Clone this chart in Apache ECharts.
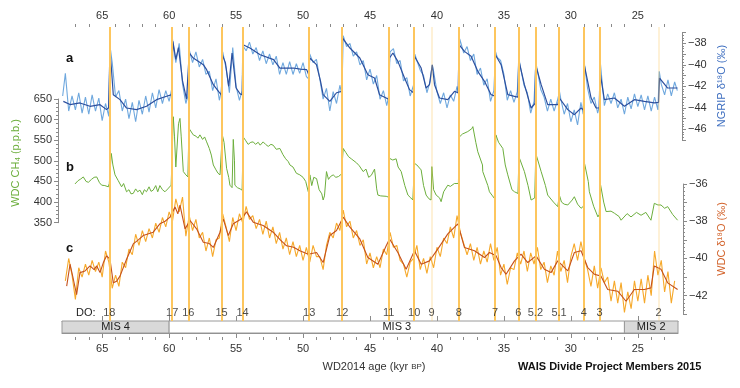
<!DOCTYPE html>
<html><head><meta charset="utf-8">
<script src="https://cdn.jsdelivr.net/npm/echarts@6/dist/echarts.min.js"></script>
<style>html,body{margin:0;padding:0;background:#fff}#c{width:740px;height:388px}</style>
</head><body><div id="c"></div>
<script>
// ---- data (age in kyr BP, value) ----
const xMajorTicks = [65,60,55,50,45,40,35,30,25];
const xMinorTicks = [67,66,64,63,62,61,59,58,57,56,54,53,52,51,49,48,47,46,44,43,42,41,39,38,37,36,34,33,32,31,29,28,27,26,24,23];

const doNames = ['18','17','16','15','14','13','12','11','10','9','8','7','6','5.2','5.1','4','3','2'];
const doAges  = [64.47,59.77,58.57,56.08,54.52,49.54,47.08,43.6,41.7,40.41,38.37,35.66,33.92,32.65,30.88,29.04,27.85,23.46];
const doFaint = ['9','2'];

const misNames = ['MIS 4','MIS 3','MIS 2'];
const misStart = [68,60,26];
const misEnd   = [60,26,22];
const misShaded = [true,false,true];

const ngripRaw = [
[67.95,-42.9],[67.75,-40.8],[67.5,-44.3],[67.25,-42.9],[67.0,-44.2],[66.75,-42.6],[66.5,-44.5],[66.25,-43.0],[66.0,-44.6],[65.75,-42.8],[65.5,-44.3],[65.25,-43.1],[65.0,-45.2],[64.75,-43.6],[64.5,-44.8],[64.42,-38.2],[64.25,-39.8],[64.0,-43.0],[63.75,-42.4],[63.5,-44.3],[63.25,-43.2],[63.0,-45.0],[62.75,-43.5],[62.5,-45.3],[62.25,-43.3],[62.0,-44.6],[61.75,-42.9],[61.5,-44.4],[61.25,-42.6],[61.0,-44.0],[60.75,-42.3],[60.5,-43.6],[60.25,-42.4],[60.0,-43.4],[59.8,-42.2],[59.75,-37.6],[59.5,-39.8],[59.25,-38.0],[59.0,-41.8],[58.75,-43.6],[58.6,-42.9],[58.5,-38.6],[58.25,-39.8],[58.0,-38.8],[57.75,-40.2],[57.5,-39.5],[57.25,-40.9],[57.0,-40.6],[56.75,-42.4],[56.5,-41.3],[56.25,-43.3],[56.1,-42.4],[56.0,-38.8],[55.75,-40.3],[55.5,-42.6],[55.25,-38.4],[55.0,-42.0],[54.75,-43.3],[54.55,-42.4],[54.5,-38.2],[54.25,-38.7],[54.0,-37.9],[53.75,-39.0],[53.5,-38.4],[53.25,-39.6],[53.0,-38.7],[52.75,-39.9],[52.5,-39.0],[52.25,-40.0],[52.0,-39.2],[51.75,-40.9],[51.5,-39.8],[51.25,-40.9],[51.0,-39.7],[50.75,-40.9],[50.5,-39.9],[50.25,-40.8],[50.0,-39.8],[49.75,-41.1],[49.58,-41.3],[49.5,-39.0],[49.25,-39.8],[49.0,-39.5],[48.75,-41.3],[48.5,-43.2],[48.25,-42.2],[48.0,-44.3],[47.75,-42.5],[47.5,-43.6],[47.25,-41.9],[47.1,-42.8],[47.0,-37.3],[46.75,-38.3],[46.5,-38.0],[46.25,-39.2],[46.0,-38.8],[45.75,-40.0],[45.5,-39.6],[45.25,-41.4],[45.0,-40.4],[44.75,-41.8],[44.5,-41.0],[44.25,-43.2],[44.0,-42.4],[43.75,-43.8],[43.62,-43.0],[43.5,-38.8],[43.25,-38.5],[43.0,-39.9],[42.75,-39.6],[42.5,-41.5],[42.25,-41.2],[42.0,-42.9],[41.75,-41.9],[41.65,-39.0],[41.5,-39.6],[41.25,-40.5],[41.0,-41.0],[40.75,-42.6],[40.5,-41.5],[40.35,-40.0],[40.25,-40.6],[40.0,-42.5],[39.75,-43.6],[39.5,-42.6],[39.25,-44.0],[39.0,-42.8],[38.75,-43.4],[38.5,-42.0],[38.4,-42.7],[38.3,-37.6],[38.0,-38.9],[37.75,-38.3],[37.5,-39.6],[37.25,-39.0],[37.0,-40.9],[36.75,-40.3],[36.5,-41.9],[36.25,-41.3],[36.0,-43.4],[35.75,-42.4],[35.62,-38.8],[35.5,-39.3],[35.25,-39.6],[35.0,-40.9],[34.75,-43.3],[34.5,-42.4],[34.25,-43.5],[34.0,-42.5],[33.88,-39.4],[33.75,-40.3],[33.5,-41.9],[33.25,-42.6],[33.0,-44.5],[32.75,-43.4],[32.62,-39.8],[32.5,-40.5],[32.25,-42.3],[32.0,-43.0],[31.75,-44.3],[31.5,-43.2],[31.25,-44.3],[31.0,-43.3],[30.85,-42.5],[30.75,-43.2],[30.5,-44.6],[30.25,-43.6],[30.0,-45.3],[29.75,-44.2],[29.5,-45.6],[29.25,-43.5],[29.08,-44.6],[29.0,-39.8],[28.75,-42.2],[28.5,-43.6],[28.25,-43.0],[28.0,-44.5],[27.88,-43.9],[27.8,-39.8],[27.5,-43.8],[27.25,-42.7],[27.0,-43.6],[26.75,-42.6],[26.5,-44.0],[26.25,-43.2],[26.0,-44.6],[25.75,-43.0],[25.5,-44.1],[25.25,-42.7],[25.0,-43.9],[24.75,-42.8],[24.5,-44.2],[24.25,-42.9],[24.0,-44.3],[23.75,-43.0],[23.5,-44.2],[23.4,-40.6],[23.25,-41.8],[23.0,-42.8],[22.75,-41.4],[22.5,-42.9],[22.25,-41.6],[22.05,-42.4]
];

const ngripSmooth = [
[67.9,-43.4],[67.4,-43.7],[66.66,-43.55],[65.91,-43.86],[65.16,-43.71],[64.67,-44.17],[64.52,-44.0],[64.42,-38.75],[64.3,-40.5],[64.17,-42.78],[63.67,-43.24],[63.18,-44.02],[62.43,-44.17],[61.69,-43.86],[60.94,-43.24],[60.19,-42.93],[59.8,-42.78],[59.72,-37.82],[59.5,-39.5],[59.3,-38.4],[59.0,-41.5],[58.7,-43.2],[58.58,-43.3],[58.5,-38.9],[58.2,-39.37],[57.8,-39.7],[57.45,-39.99],[57.2,-40.45],[56.7,-41.85],[56.3,-42.5],[56.1,-42.8],[56.02,-39.1],[55.8,-39.8],[55.55,-42.0],[55.3,-38.9],[55.0,-42.16],[54.7,-42.7],[54.54,-42.78],[54.48,-38.13],[53.97,-38.44],[53.2,-39.06],[52.2,-39.52],[51.73,-40.3],[50.73,-40.3],[50.2,-40.4],[49.73,-40.45],[49.58,-40.9],[49.5,-39.37],[49.0,-39.99],[48.7,-41.5],[48.5,-42.78],[48.0,-43.4],[47.5,-42.6],[47.12,-42.47],[47.05,-37.51],[46.5,-38.44],[45.76,-39.37],[45.16,-40.92],[44.66,-41.23],[44.29,-42.78],[43.79,-43.09],[43.62,-43.2],[43.54,-39.37],[43.29,-38.9],[42.92,-39.68],[42.42,-41.23],[42.05,-42.31],[41.75,-42.6],[41.68,-39.21],[41.18,-40.3],[40.81,-42.16],[40.56,-41.85],[40.35,-40.0],[40.18,-41.85],[39.81,-43.09],[39.19,-43.24],[38.69,-42.47],[38.42,-42.6],[38.35,-38.13],[37.95,-38.75],[37.45,-39.21],[36.95,-40.61],[36.45,-41.54],[35.96,-42.78],[35.7,-42.9],[35.64,-39.06],[35.21,-39.99],[34.71,-42.78],[34.21,-42.93],[33.95,-43.0],[33.9,-39.52],[33.47,-41.85],[32.97,-44.02],[32.68,-43.6],[32.63,-40.0],[32.22,-41.85],[31.73,-43.71],[30.98,-43.71],[30.86,-43.09],[30.23,-44.17],[29.74,-44.64],[29.24,-44.02],[29.06,-44.2],[29.0,-40.0],[28.49,-43.09],[28.12,-44.02],[27.88,-44.0],[27.83,-40.61],[27.5,-43.24],[26.75,-43.09],[26.0,-43.86],[25.26,-43.24],[24.51,-43.4],[23.77,-43.55],[23.45,-43.5],[23.38,-41.23],[22.77,-42.16],[22.03,-42.16]
];

const ch4 = [
[67.03,444],[66.8,452],[66.6,456],[66.41,461],[66.2,450],[66.03,448],[65.8,455],[65.6,460],[65.41,461],[65.2,447],[65.04,441],[64.8,440],[64.54,437],[64.47,445],[64.32,518],[64.2,490],[64.04,466],[63.8,452],[63.55,437],[63.4,445],[63.18,425],[63.0,430],[62.85,420],[62.68,421],[62.5,432],[62.35,425],[62.18,429],[62.0,418],[61.85,430],[61.69,425],[61.5,437],[61.35,426],[61.19,429],[61.0,440],[60.85,425],[60.69,440],[60.5,430],[60.31,425],[60.1,432],[59.85,441],[59.77,520],[59.69,607],[59.6,560],[59.5,485],[59.44,482],[59.3,590],[59.19,603],[59.1,560],[58.94,474],[58.75,466],[58.6,461],[58.52,579],[58.4,575],[58.2,563],[58.0,560],[57.85,555],[57.7,563],[57.5,552],[57.35,558],[57.2,546],[57.0,530],[56.85,514],[56.7,490],[56.5,478],[56.35,470],[56.2,466],[56.09,468],[56.03,563],[55.9,545],[55.71,482],[55.55,460],[55.46,441],[55.3,435],[55.21,552],[55.12,500],[55.09,441],[54.9,435],[54.7,432],[54.55,429],[54.47,558],[54.3,550],[54.1,540],[53.9,545],[53.72,546],[53.55,540],[53.35,545],[53.2,538],[52.98,546],[52.8,540],[52.6,535],[52.4,540],[52.23,538],[52.0,528],[51.73,530],[51.5,515],[51.3,505],[51.1,498],[50.98,490],[50.75,485],[50.5,470],[50.24,466],[50.0,460],[49.8,450],[49.61,425],[49.55,430],[49.49,466],[49.35,440],[49.2,460],[48.99,457],[48.8,430],[48.6,420],[48.5,405],[48.4,415],[48.25,474],[48.1,455],[47.95,462],[47.75,466],[47.55,460],[47.35,462],[47.13,468],[47.08,470],[47.0,530],[46.8,520],[46.6,510],[46.4,505],[46.26,506],[46.0,495],[45.8,488],[45.51,474],[45.3,480],[45.1,460],[44.9,465],[44.66,480],[44.5,432],[44.41,417],[44.2,415],[43.79,414],[43.62,412],[43.54,506],[43.3,502],[43.05,505],[42.9,485],[42.67,474],[42.4,440],[42.17,417],[41.95,410],[41.8,405],[41.72,408],[41.68,494],[41.5,490],[41.18,478],[41.0,440],[40.81,417],[40.6,408],[40.44,405],[40.38,486],[40.25,430],[40.06,417],[39.8,410],[39.69,401],[39.5,425],[39.19,441],[39.0,438],[38.7,445],[38.57,441],[38.4,445],[38.32,558],[38.1,565],[37.7,571],[37.4,578],[37.32,583],[37.1,545],[36.95,522],[36.6,490],[36.58,474],[36.2,440],[36.08,425],[35.85,415],[35.71,409],[35.66,412],[35.6,563],[35.4,545],[35.08,530],[34.9,490],[34.71,466],[34.4,430],[34.21,425],[33.95,421],[33.88,510],[33.47,474],[33.2,440],[32.97,405],[32.7,410],[32.62,518],[32.22,474],[31.9,440],[31.73,417],[31.3,400],[30.98,389],[30.86,417],[30.7,400],[30.5,395],[30.23,393],[29.9,405],[29.74,413],[29.5,395],[29.24,385],[29.06,390],[28.98,494],[28.7,450],[28.62,425],[28.3,390],[27.98,364],[27.88,370],[27.8,445],[27.55,400],[27.37,377],[27.0,378],[26.75,373],[26.4,365],[26.25,356],[25.8,372],[25.51,364],[25.1,375],[24.76,368],[24.4,375],[24.02,356],[23.77,397],[23.5,393],[23.27,393],[23.0,385],[22.77,389],[22.4,370],[22.03,356]
];

const wdcRaw = [
[67.75,-41.2],[67.5,-40.0],[67.25,-40.9],[67.0,-42.2],[66.75,-40.5],[66.5,-41.0],[66.25,-40.3],[66.0,-40.9],[65.75,-40.1],[65.5,-40.7],[65.25,-40.2],[65.0,-41.0],[64.75,-39.6],[64.5,-40.2],[64.25,-41.6],[64.0,-40.9],[63.75,-41.5],[63.5,-40.2],[63.25,-40.5],[63.0,-39.5],[62.75,-39.8],[62.5,-38.7],[62.25,-39.3],[62.0,-38.5],[61.75,-39.1],[61.5,-38.4],[61.25,-38.9],[61.0,-38.1],[60.75,-38.6],[60.5,-37.8],[60.25,-38.3],[60.0,-37.5],[59.75,-38.0],[59.5,-36.8],[59.25,-37.5],[59.0,-36.7],[58.75,-38.8],[58.5,-37.7],[58.25,-38.5],[58.0,-37.9],[57.75,-38.9],[57.5,-38.6],[57.25,-39.6],[57.0,-38.9],[56.75,-39.9],[56.5,-39.0],[56.25,-38.9],[56.0,-37.6],[55.75,-38.3],[55.5,-39.1],[55.25,-37.8],[55.0,-38.5],[54.75,-37.6],[54.5,-38.1],[54.25,-37.2],[54.0,-37.9],[53.75,-37.7],[53.5,-38.4],[53.25,-37.9],[53.0,-38.7],[52.75,-38.0],[52.5,-38.9],[52.25,-38.3],[52.0,-39.2],[51.75,-38.6],[51.5,-39.5],[51.25,-38.9],[51.0,-39.8],[50.75,-39.1],[50.5,-39.9],[50.25,-39.3],[50.0,-40.1],[49.75,-39.4],[49.5,-40.2],[49.25,-39.3],[49.0,-39.9],[48.75,-39.9],[48.5,-40.6],[48.25,-39.3],[48.0,-38.6],[47.75,-38.9],[47.5,-38.1],[47.25,-38.5],[47.0,-37.4],[46.75,-38.3],[46.5,-38.0],[46.25,-38.9],[46.0,-38.5],[45.75,-39.3],[45.5,-39.0],[45.25,-40.3],[45.0,-39.7],[44.75,-40.5],[44.5,-39.9],[44.25,-40.5],[44.0,-39.5],[43.75,-39.8],[43.5,-38.6],[43.25,-39.4],[43.0,-39.3],[42.75,-40.1],[42.5,-40.3],[42.25,-41.0],[42.0,-40.2],[41.75,-40.0],[41.5,-39.3],[41.25,-40.6],[41.0,-40.0],[40.75,-40.8],[40.5,-39.9],[40.25,-40.5],[40.0,-39.4],[39.75,-39.9],[39.5,-38.9],[39.25,-39.2],[39.0,-38.3],[38.75,-38.9],[38.5,-37.7],[38.25,-38.6],[38.0,-39.2],[37.75,-39.8],[37.5,-39.2],[37.25,-40.1],[37.0,-39.4],[36.75,-40.3],[36.5,-39.6],[36.25,-40.2],[36.0,-39.2],[35.75,-40.1],[35.5,-39.4],[35.25,-40.9],[35.0,-40.3],[34.75,-41.4],[34.5,-40.5],[34.25,-40.6],[34.0,-39.7],[33.75,-40.3],[33.5,-39.6],[33.25,-40.7],[33.0,-39.7],[32.75,-40.3],[32.5,-39.4],[32.25,-40.6],[32.0,-40.2],[31.75,-41.3],[31.5,-40.4],[31.25,-40.9],[31.0,-39.6],[30.75,-40.7],[30.5,-40.1],[30.25,-41.3],[30.0,-39.9],[29.75,-39.2],[29.5,-40.1],[29.25,-39.1],[29.0,-40.0],[28.75,-40.6],[28.5,-41.5],[28.25,-40.4],[28.0,-41.6],[27.75,-40.5],[27.5,-41.3],[27.25,-41.0],[27.0,-42.3],[26.75,-41.2],[26.5,-42.4],[26.25,-41.3],[26.0,-42.9],[25.75,-41.8],[25.5,-42.7],[25.25,-41.2],[25.0,-42.3],[24.75,-41.1],[24.5,-42.4],[24.25,-40.9],[24.0,-42.0],[23.75,-39.6],[23.5,-40.9],[23.25,-40.1],[23.0,-41.8],[22.75,-40.7],[22.5,-42.4],[22.25,-41.2]
];

const wdcSmooth = [
[67.65,-41.49],[67.4,-40.31],[67.15,-41.13],[66.91,-41.94],[66.66,-40.76],[66.28,-40.67],[65.91,-40.4],[65.6,-40.6],[65.41,-40.4],[65.16,-40.76],[64.9,-40.2],[64.67,-39.86],[64.42,-40.04],[64.17,-41.31],[63.92,-41.22],[63.67,-40.95],[63.18,-40.04],[62.68,-39.22],[62.3,-39.0],[61.94,-38.77],[61.19,-38.59],[60.69,-38.14],[60.3,-38.0],[59.94,-37.78],[59.56,-37.23],[59.35,-37.6],[59.19,-37.14],[58.81,-38.41],[58.44,-37.96],[57.95,-38.41],[57.45,-39.13],[57.0,-39.2],[56.7,-39.41],[56.2,-38.59],[55.96,-37.87],[55.58,-38.77],[55.21,-38.14],[54.9,-38.0],[54.59,-37.87],[54.22,-37.5],[53.72,-38.05],[52.98,-38.23],[52.23,-38.59],[51.7,-39.0],[51.23,-39.32],[50.7,-39.4],[50.24,-39.59],[49.61,-39.77],[48.99,-39.68],[48.5,-40.22],[48.0,-38.77],[47.5,-38.5],[47.0,-37.78],[46.5,-38.32],[45.76,-38.95],[45.16,-39.95],[44.41,-40.31],[43.79,-39.32],[43.54,-38.95],[42.92,-39.68],[42.3,-40.58],[41.68,-39.59],[41.18,-40.31],[40.56,-40.13],[39.94,-39.5],[39.19,-38.68],[38.44,-38.14],[37.95,-39.41],[37.2,-39.59],[36.45,-39.95],[36.08,-39.68],[35.58,-39.86],[35.21,-40.49],[34.84,-40.85],[34.21,-40.13],[33.72,-39.77],[33.22,-40.22],[32.6,-39.86],[31.98,-40.58],[31.48,-40.76],[30.98,-40.13],[30.23,-40.67],[29.74,-39.68],[29.24,-39.59],[28.74,-40.49],[28.24,-40.85],[27.75,-40.95],[27.25,-41.67],[26.5,-41.76],[25.88,-42.3],[25.26,-41.67],[24.51,-41.67],[24.02,-41.58],[23.77,-40.4],[23.27,-40.58],[22.77,-41.31],[22.03,-41.67]
];

// ---- chart ----
const FONT = '"Liberation Sans", Arial, sans-serif';
const AX = '#8a8a8a', TXT = '#333';
const C_BLUE_RAW = '#6fa8de', C_BLUE = '#2c4f9e', C_GREEN = '#6cae3c', C_OR_RAW = '#f6a92b', C_OR = '#c5511c', C_DO = '#fdc65e';
const L = 62, R = 62;

const chart = echarts.init(document.getElementById('c'), null, {renderer: 'canvas'});
const minus = s => String(s).replace('-', '\u2212');
const evenOnly = v => (Math.round(v) % 2 === 0 ? minus(v) : '');

const hiddenX = g => ({type:'value', gridIndex:g, min:22, max:68, inverse:true, show:false});
const hiddenY = g => ({type:'value', gridIndex:g, min:0, max:1, show:false});

const option = {
  animation: false,
  textStyle: {fontFamily: FONT},
  grid: [
    {left:L, right:R, top:32.55, height:107.5},   // 0 NGRIP
    {left:L, right:R, top:99, height:123.7},      // 1 CH4
    {left:L, right:R, top:184, height:130.3},     // 2 WDC
    {left:L, right:R, top:27, height:294},        // 3 frame / DO lines
    {left:L, right:R, top:321, height:12},        // 4 MIS bar
    {left:L, right:R, top:305, height:16}         // 5 DO labels
  ],
  xAxis: [
    hiddenX(0), hiddenX(1), hiddenX(2),
    {type:'value', gridIndex:3, position:'top', min:22, max:68, inverse:true,
     axisLine:{show:true, lineStyle:{color:AX}}, splitLine:{show:false},
     axisTick:{show:true, customValues:xMajorTicks, length:5, lineStyle:{color:AX}},
     axisLabel:{customValues:xMajorTicks, color:TXT, fontSize:11, margin:6, fontFamily:FONT}},
    {type:'value', gridIndex:3, position:'top', min:22, max:68, inverse:true,
     axisLine:{show:false}, splitLine:{show:false}, axisLabel:{show:false},
     axisTick:{show:true, customValues:xMinorTicks, length:3, lineStyle:{color:AX}}},
    {type:'value', gridIndex:4, position:'bottom', offset:4, min:22, max:68, inverse:true,
     axisLine:{show:true, lineStyle:{color:AX}}, splitLine:{show:false},
     axisTick:{show:true, customValues:xMajorTicks, length:5, lineStyle:{color:AX}},
     axisLabel:{customValues:xMajorTicks, color:TXT, fontSize:11, margin:6, fontFamily:FONT}},
    {type:'value', gridIndex:4, position:'bottom', offset:4, min:22, max:68, inverse:true,
     axisLine:{show:false}, splitLine:{show:false}, axisLabel:{show:false},
     axisTick:{show:true, customValues:xMinorTicks, length:3, lineStyle:{color:AX}}},
    hiddenX(5)
  ],
  yAxis: [
    {type:'value', gridIndex:0, position:'right', offset:4, min:-47, max:-37, interval:1,
     axisLine:{show:true, lineStyle:{color:AX}}, splitLine:{show:false},
     axisTick:{show:true, length:4, lineStyle:{color:AX}},
     minorTick:{show:true, splitNumber:4, length:2, lineStyle:{color:AX}},
     axisLabel:{formatter:evenOnly, color:TXT, fontSize:11, margin:6, fontFamily:FONT}},
    {type:'value', gridIndex:1, position:'left', offset:4, min:350, max:650, interval:50,
     axisLine:{show:true, lineStyle:{color:AX}}, splitLine:{show:false},
     axisTick:{show:true, length:4, lineStyle:{color:AX}},
     minorTick:{show:true, splitNumber:5, length:2, lineStyle:{color:AX}},
     axisLabel:{color:TXT, fontSize:11, margin:6, fontFamily:FONT}},
    {type:'value', gridIndex:2, position:'right', offset:5, min:-43, max:-36, interval:1,
     axisLine:{show:true, lineStyle:{color:AX}}, splitLine:{show:false},
     axisTick:{show:true, length:4, lineStyle:{color:AX}},
     minorTick:{show:true, splitNumber:5, length:2, lineStyle:{color:AX}},
     axisLabel:{formatter:evenOnly, color:TXT, fontSize:11, margin:6, fontFamily:FONT}},
    hiddenY(3), hiddenY(4), hiddenY(5)
  ],
  series: [
    {type:'line', xAxisIndex:3, yAxisIndex:3, data:[], silent:true, z:1,
     markLine:{silent:true, symbol:['none','none'], label:{show:false}, animation:false,
       lineStyle:{color:C_DO, width:2, type:'solid'},
       data: doAges.map((a,i) => ({xAxis:a, lineStyle:{color:C_DO, width:2, type:'solid', opacity: doFaint.includes(doNames[i]) ? 0.25 : 1}}))}},
    {type:'line', xAxisIndex:0, yAxisIndex:0, data:ngripRaw, showSymbol:false, symbol:'none', clip:false, z:2,
     lineStyle:{color:C_BLUE_RAW, width:1.1}},
    {type:'line', xAxisIndex:0, yAxisIndex:0, data:ngripSmooth, showSymbol:false, symbol:'none', clip:false, z:3,
     lineStyle:{color:C_BLUE, width:1.2}},
    {type:'line', xAxisIndex:1, yAxisIndex:1, data:ch4, showSymbol:false, symbol:'none', clip:false, z:3,
     lineStyle:{color:C_GREEN, width:1}},
    {type:'line', xAxisIndex:2, yAxisIndex:2, data:wdcRaw, showSymbol:false, symbol:'none', clip:false, z:2,
     lineStyle:{color:C_OR_RAW, width:1.1}},
    {type:'line', xAxisIndex:2, yAxisIndex:2, data:wdcSmooth, showSymbol:false, symbol:'none', clip:false, z:3,
     lineStyle:{color:C_OR, width:1.1}},
    {type:'line', xAxisIndex:5, yAxisIndex:4, data:[], silent:true,
     markArea:{silent:true,
       label:{show:true, position:'inside', color:'#222', fontSize:11, fontFamily:FONT},
       data: misNames.map((n,i) => [
         {name:n, xAxis:misStart[i], itemStyle:{color: misShaded[i] ? '#d9d9d9' : '#ffffff', borderColor:'#9a9a9a', borderWidth:1}},
         {xAxis:misEnd[i]}])}},
    {type:'scatter', xAxisIndex:7, yAxisIndex:5, symbolSize:1, silent:true, z:5,
     itemStyle:{color:'transparent'},
     label:{show:true, position:'inside', formatter:'{b}', color:'#222', fontSize:11, fontFamily:FONT},
     data: doAges.map((a,i) => ({name:doNames[i], value:[a,0.5]}))}
  ],
  graphic: [
    {type:'text', x:66, y:58, style:{text:'a', font:'bold 13px '+FONT, fill:'#111', textAlign:'left', textVerticalAlign:'middle'}},
    {type:'text', x:66, y:167, style:{text:'b', font:'bold 13px '+FONT, fill:'#111', textAlign:'left', textVerticalAlign:'middle'}},
    {type:'text', x:66, y:248, style:{text:'c', font:'bold 13px '+FONT, fill:'#111', textAlign:'left', textVerticalAlign:'middle'}},
    {type:'text', x:76, y:313, style:{text:'DO:', font:'11px '+FONT, fill:'#222', textAlign:'left', textVerticalAlign:'middle'}},
    {type:'text', x:16, y:163, rotation:Math.PI/2, style:{text:'WDC CH\u2084 (p.p.b.)', font:'11px '+FONT, fill:C_GREEN, textAlign:'center', textVerticalAlign:'middle'}},
    {type:'text', x:722, y:86, rotation:Math.PI/2, style:{text:'NGRIP \u03b4\u00b9\u2078O (\u2030)', font:'11px '+FONT, fill:'#3f6fc0', textAlign:'center', textVerticalAlign:'middle'}},
    {type:'text', x:722, y:239, rotation:Math.PI/2, style:{text:'WDC \u03b4\u00b9\u2078O (\u2030)', font:'11px '+FONT, fill:'#d2622a', textAlign:'center', textVerticalAlign:'middle'}},
    {type:'text', x:374, y:367, style:{text:'WD2014 age (kyr {s|BP})', rich:{s:{fontSize:8, fontFamily:FONT, fill:'#333'}}, font:'11px '+FONT, fill:'#333', textAlign:'center', textVerticalAlign:'middle'}},
    {type:'text', x:518, y:367, style:{text:'WAIS Divide Project Members 2015', font:'bold 11px '+FONT, fill:'#111', textAlign:'left', textVerticalAlign:'middle'}}
  ]
};
chart.setOption(option);
</script>
</body></html>
